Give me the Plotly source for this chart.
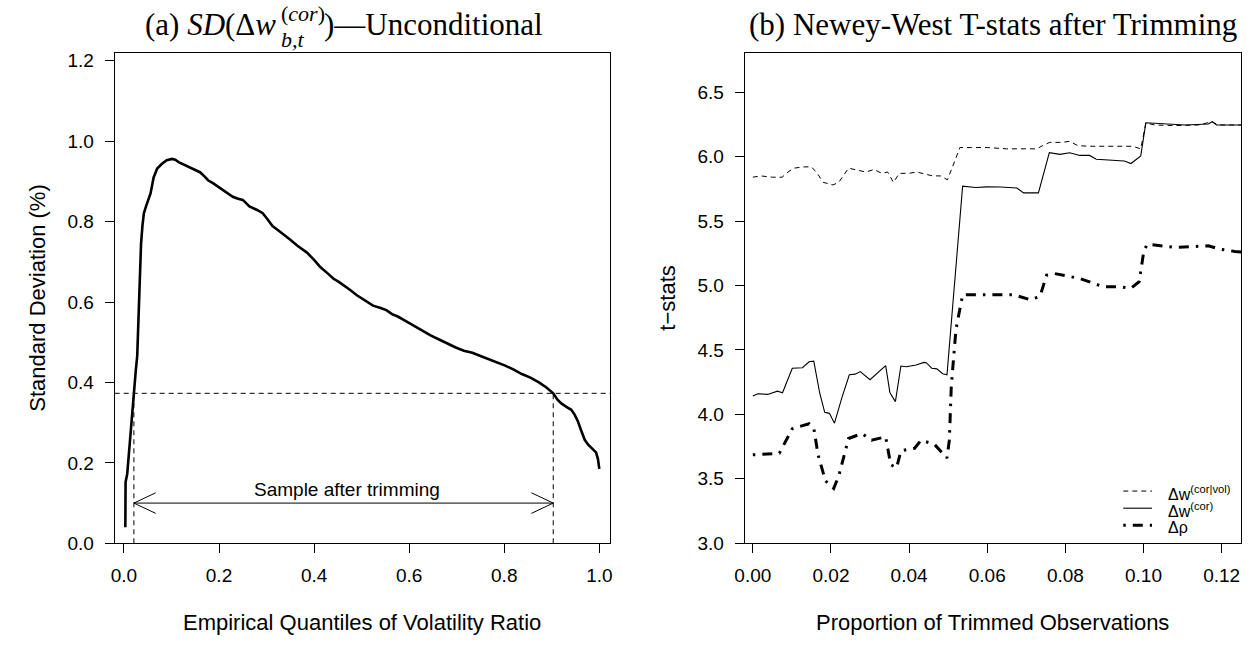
import plotly.graph_objects as go

W, H = 1259, 652

# ---------------- Panel (a) data ----------------
quantile = [0.003, 0.0035, 0.007, 0.010, 0.014, 0.018, 0.021, 0.025, 0.028, 0.031,
            0.033, 0.036, 0.039, 0.042, 0.047, 0.052, 0.056, 0.0625, 0.070, 0.080,
            0.090, 0.101, 0.108, 0.115, 0.125, 0.135, 0.148, 0.160, 0.170, 0.177,
            0.188, 0.198, 0.212, 0.229, 0.240, 0.250, 0.257, 0.264, 0.280, 0.292,
            0.302, 0.3125, 0.325, 0.337, 0.350, 0.365, 0.375, 0.385, 0.400, 0.413,
            0.428, 0.441, 0.452, 0.462, 0.476, 0.490, 0.507, 0.524, 0.540, 0.552,
            0.564, 0.576, 0.594, 0.611, 0.628, 0.645, 0.663, 0.680, 0.698, 0.715,
            0.733, 0.750, 0.767, 0.785, 0.802, 0.820, 0.837, 0.855, 0.872, 0.888,
            0.903, 0.912, 0.920, 0.930, 0.941, 0.948, 0.955, 0.962, 0.969, 0.976,
            0.983, 0.990, 0.993, 0.997, 1.0]
sd_pct = [0.040, 0.152, 0.173, 0.220, 0.280, 0.330, 0.373, 0.430, 0.466, 0.570,
          0.679, 0.744, 0.790, 0.821, 0.840, 0.858, 0.870, 0.910, 0.932, 0.944,
          0.953, 0.956, 0.954, 0.948, 0.942, 0.936, 0.930, 0.923, 0.912, 0.903,
          0.895, 0.887, 0.876, 0.862, 0.857, 0.854, 0.846, 0.838, 0.829, 0.821,
          0.806, 0.789, 0.778, 0.768, 0.755, 0.740, 0.731, 0.723, 0.705, 0.687,
          0.672, 0.658, 0.650, 0.642, 0.630, 0.617, 0.603, 0.591, 0.585, 0.580,
          0.570, 0.564, 0.552, 0.540, 0.528, 0.517, 0.507, 0.497, 0.487, 0.479,
          0.474, 0.466, 0.458, 0.451, 0.442, 0.432, 0.421, 0.412, 0.401, 0.388,
          0.373, 0.357, 0.348, 0.340, 0.332, 0.320, 0.303, 0.280, 0.258, 0.246,
          0.238, 0.230, 0.226, 0.210, 0.185]
lower_q = 0.021
upper_q = 0.903
sd_threshold = 0.373
arrow_level = 0.10
sample_label = "Sample after trimming"
sample_label_x = 0.47
sample_label_y = 0.135

a_xticks = [0.0, 0.2, 0.4, 0.6, 0.8, 1.0]
a_xticklabels = ["0.0", "0.2", "0.4", "0.6", "0.8", "1.0"]
a_yticks = [0.0, 0.2, 0.4, 0.6, 0.8, 1.0, 1.2]
a_yticklabels = ["0.0", "0.2", "0.4", "0.6", "0.8", "1.0", "1.2"]

# ---------------- Panel (b) data ----------------
trim_vol = [0, 0.002, 0.005, 0.0075, 0.009, 0.0105, 0.013, 0.015, 0.0165, 0.018,
            0.0205, 0.022, 0.0245, 0.027, 0.029, 0.031, 0.033, 0.0345, 0.036, 0.0375,
            0.040, 0.042, 0.0445, 0.046, 0.048, 0.0498, 0.0515, 0.053, 0.056, 0.060,
            0.065, 0.070, 0.0727, 0.0745, 0.076, 0.079, 0.0811, 0.0832, 0.086, 0.090,
            0.095, 0.0972, 0.0993, 0.1006, 0.103, 0.108, 0.114, 0.1176, 0.119, 0.125]
tstat_vol = [5.84, 5.85, 5.84, 5.84, 5.88, 5.91, 5.92, 5.92, 5.87, 5.80,
             5.78, 5.80, 5.91, 5.89, 5.88, 5.90, 5.87, 5.88, 5.80, 5.87,
             5.87, 5.88, 5.86, 5.85, 5.85, 5.82, 5.95, 6.07, 6.07, 6.07,
             6.06, 6.06, 6.06, 6.09, 6.11, 6.11, 6.118, 6.085, 6.08, 6.08,
             6.08, 6.08, 6.06, 6.26, 6.245, 6.24, 6.245, 6.27, 6.245, 6.245]

trim_cor = [0, 0.0013, 0.0038, 0.0063, 0.0076, 0.0101, 0.0127, 0.0144, 0.0156, 0.0171,
            0.0184, 0.0196, 0.0209, 0.0228, 0.0247, 0.0262, 0.0275, 0.0300, 0.0340, 0.0351,
            0.0365, 0.0379, 0.0393, 0.0418, 0.0438, 0.0444, 0.0458, 0.0471, 0.0486, 0.0497,
            0.0537, 0.057, 0.060, 0.0634, 0.0676, 0.0693, 0.0731, 0.0759, 0.0786, 0.0811,
            0.0837, 0.0862, 0.0879, 0.0913, 0.0951, 0.0968, 0.0993, 0.1006, 0.1031, 0.1056,
            0.1107, 0.1166, 0.1176, 0.1187, 0.125]
tstat_cor = [4.142, 4.160, 4.155, 4.180, 4.168, 4.358, 4.362, 4.408, 4.413, 4.168,
             4.016, 4.008, 3.932, 4.130, 4.307, 4.312, 4.332, 4.269, 4.378, 4.168,
             4.099, 4.375, 4.370, 4.383, 4.403, 4.401, 4.358, 4.353, 4.315, 4.307,
             5.770, 5.760, 5.765, 5.764, 5.756, 5.718, 5.718, 6.030, 6.017, 6.030,
             6.009, 6.009, 5.979, 5.971, 5.966, 5.946, 6.004, 6.262, 6.258, 6.250,
             6.245, 6.252, 6.270, 6.245, 6.245]

trim_rho = [0, 0.0068, 0.0101, 0.0144, 0.0156, 0.0167, 0.0186, 0.0207, 0.0220, 0.0245,
            0.0279, 0.0304, 0.0340, 0.0353, 0.0368, 0.0379, 0.0414, 0.0431, 0.0465, 0.0486,
            0.0497, 0.0503, 0.0508, 0.0520, 0.0532, 0.0537, 0.0608, 0.0667, 0.071, 0.0735,
            0.0752, 0.0773, 0.0837, 0.0896, 0.0938, 0.0968, 0.0989, 0.1001, 0.1010, 0.1082,
            0.1166, 0.1196, 0.1234, 0.125]
tstat_rho = [3.686, 3.699, 3.889, 3.927, 3.894, 3.686, 3.484, 3.426, 3.522, 3.813,
             3.851, 3.800, 3.826, 3.610, 3.585, 3.717, 3.737, 3.800, 3.767, 3.699,
             3.661, 3.800, 4.220, 4.660, 4.864, 4.928, 4.928, 4.928, 4.890, 4.915,
             5.080, 5.092, 5.054, 4.991, 4.991, 4.978, 5.029, 5.270, 5.320, 5.295,
             5.308, 5.282, 5.264, 5.260]

b_xticks = [0.00, 0.02, 0.04, 0.06, 0.08, 0.10, 0.12]
b_xticklabels = ["0.00", "0.02", "0.04", "0.06", "0.08", "0.10", "0.12"]
b_yticks = [3.0, 3.5, 4.0, 4.5, 5.0, 5.5, 6.0, 6.5]
b_yticklabels = ["3.0", "3.5", "4.0", "4.5", "5.0", "5.5", "6.0", "6.5"]

legend_labels = ["Δw<sup>(cor|vol)</sup>", "Δw<sup>(cor)</sup>", "Δρ"]

# ---------------- Layout geometry (pixels) ----------------
A_LEFT, A_RIGHT = 105.7, 606.0
B_LEFT, B_RIGHT = 741.7, 1243.0
TOP, BOTTOM = 51.7, 552.3
a_xrange = [-0.0194, 1.0229]
a_yrange = [0.0, 1.2203]
b_xrange = [-0.0021, 0.125]
b_yrange = [3.0, 6.806]

SANS = "Liberation Sans, Arial, sans-serif"
SERIF = "Liberation Serif, Times New Roman, serif"
TICKFONT = dict(family=SANS, size=19, color="black")


def px(xp):
    return xp / W


def py(yp):
    return 1 - yp / H


fig = go.Figure()

# Panel (a) curve
fig.add_trace(go.Scatter(x=quantile, y=sd_pct, mode="lines", xaxis="x", yaxis="y",
                         line=dict(color="black", width=2.6), showlegend=False,
                         hoverinfo="skip"))
# vertical dashed segments
fig.add_trace(go.Scatter(x=[lower_q, lower_q, None, upper_q, upper_q],
                         y=[0, sd_threshold, None, 0, sd_threshold],
                         mode="lines", xaxis="x", yaxis="y",
                         line=dict(color="black", width=1, dash="5px,4px"),
                         showlegend=False, hoverinfo="skip", cliponaxis=False))

# Panel (b) lines
fig.add_trace(go.Scatter(x=trim_vol, y=tstat_vol, mode="lines", xaxis="x2", yaxis="y2",
                         line=dict(color="black", width=1, dash="5px,4px"),
                         showlegend=False, hoverinfo="skip"))
fig.add_trace(go.Scatter(x=trim_cor, y=tstat_cor, mode="lines", xaxis="x2", yaxis="y2",
                         line=dict(color="black", width=1.1),
                         showlegend=False, hoverinfo="skip"))
fig.add_trace(go.Scatter(x=trim_rho, y=tstat_rho, mode="lines", xaxis="x2", yaxis="y2",
                         line=dict(color="black", width=3, dash="2.5px,7px,10px,7px"),
                         showlegend=False, hoverinfo="skip"))

shapes = []
# horizontal dashed threshold across panel (a)
shapes.append(dict(type="line", xref="x domain", yref="y", x0=0, x1=1,
                   y0=sd_threshold, y1=sd_threshold,
                   line=dict(color="black", width=1, dash="5px,4px")))
# double-headed arrow
shapes.append(dict(type="line", xref="x", yref="y", x0=lower_q, x1=upper_q,
                   y0=arrow_level, y1=arrow_level, line=dict(color="black", width=1)))
x_ppu = (A_RIGHT - A_LEFT) / (a_xrange[1] - a_xrange[0])
y_ppu = (BOTTOM - TOP) / (a_yrange[1] - a_yrange[0])
adx = 22 / x_ppu
ady = 10.5 / y_ppu
shapes.append(dict(type="path", xref="x", yref="y",
                   path=f"M {lower_q + adx},{arrow_level + ady} L {lower_q},{arrow_level} L {lower_q + adx},{arrow_level - ady}",
                   line=dict(color="black", width=1)))
shapes.append(dict(type="path", xref="x", yref="y",
                   path=f"M {upper_q - adx},{arrow_level + ady} L {upper_q},{arrow_level} L {upper_q - adx},{arrow_level - ady}",
                   line=dict(color="black", width=1)))

# manual legend samples (paper coords)
leg_rows = [499, 516.5, 534]
leg_styles = [dict(width=1, dash="5px,4px"), dict(width=1.1), dict(width=3, dash="2.5px,7px,10px,7px")]
for yy, st in zip(leg_rows, leg_styles):
    shapes.append(dict(type="line", xref="paper", yref="paper", x0=px(1124), x1=px(1153),
                       y0=py(yy), y1=py(yy), line=dict(color="black", **st)))

annotations = []
annotations.append(dict(text=sample_label, x=sample_label_x, y=sample_label_y, xref="x", yref="y",
                        showarrow=False, font=dict(family=SANS, size=19, color="black"),
                        xanchor="center", yanchor="middle"))
for yy, lab in zip(leg_rows, legend_labels):
    annotations.append(dict(text=lab, x=px(1167), y=py(yy + 2), xref="paper", yref="paper",
                            showarrow=False, font=dict(family=SANS, size=16, color="black"),
                            xanchor="left", yanchor="middle"))

# axis titles
annotations.append(dict(text="Empirical Quantiles of Volatility Ratio", x=px((A_LEFT + A_RIGHT) / 2),
                        y=py(633), xref="paper", yref="paper", showarrow=False,
                        font=dict(family=SANS, size=22, color="black"), xanchor="center", yanchor="middle"))
annotations.append(dict(text="Proportion of Trimmed Observations", x=px((B_LEFT + B_RIGHT) / 2),
                        y=py(633), xref="paper", yref="paper", showarrow=False,
                        font=dict(family=SANS, size=22, color="black"), xanchor="center", yanchor="middle"))
annotations.append(dict(text="Standard Deviation (%)", x=px(28), y=py((TOP + BOTTOM) / 2),
                        xref="paper", yref="paper", showarrow=False, textangle=-90,
                        font=dict(family=SANS, size=22, color="black"), xanchor="center", yanchor="middle"))
annotations.append(dict(text="t−stats", x=px(664), y=py((TOP + BOTTOM) / 2),
                        xref="paper", yref="paper", showarrow=False, textangle=-90,
                        font=dict(family=SANS, size=22, color="black"), xanchor="center", yanchor="middle"))

# panel titles
annotations.append(dict(text="(a) <i>SD</i>(Δ<i>w</i>", x=px(271), y=py(23), xref="paper", yref="paper",
                        showarrow=False, font=dict(family=SERIF, size=31, color="black"),
                        xanchor="right", yanchor="middle"))
annotations.append(dict(text="(<i>cor</i>)", x=px(272), y=py(12), xref="paper", yref="paper",
                        showarrow=False, font=dict(family=SERIF, size=22, color="black"),
                        xanchor="left", yanchor="middle"))
annotations.append(dict(text="<i>b,t</i>", x=px(272), y=py(38), xref="paper", yref="paper",
                        showarrow=False, font=dict(family=SERIF, size=22, color="black"),
                        xanchor="left", yanchor="middle"))
annotations.append(dict(text=")—Unconditional", x=px(315), y=py(23), xref="paper", yref="paper",
                        showarrow=False, font=dict(family=SERIF, size=31, color="black"),
                        xanchor="left", yanchor="middle"))
annotations.append(dict(text="(b) Newey-West T-stats after Trimming", x=px((B_LEFT + B_RIGHT) / 2),
                        y=py(23), xref="paper", yref="paper", showarrow=False,
                        font=dict(family=SERIF, size=31, color="black"),
                        xanchor="center", yanchor="middle"))

axis_common = dict(showgrid=False, zeroline=False, showline=True, mirror=True,
                   linecolor="black", linewidth=1, ticks="outside", ticklen=9,
                   tickwidth=1, tickcolor="black", tickfont=TICKFONT, fixedrange=True)

fig.update_layout(
    width=W, height=H,
    margin=dict(l=0, r=0, t=0, b=0),
    paper_bgcolor="white", plot_bgcolor="white",
    showlegend=False,
    xaxis=dict(domain=[px(A_LEFT), px(A_RIGHT)], range=a_xrange, tickvals=a_xticks,
               ticktext=a_xticklabels, anchor="y", ticklabelstandoff=6, **axis_common),
    yaxis=dict(domain=[py(BOTTOM), py(TOP)], range=a_yrange, tickvals=a_yticks,
               ticktext=a_yticklabels, anchor="x", ticklabelstandoff=7, **axis_common),
    xaxis2=dict(domain=[px(B_LEFT), px(B_RIGHT)], range=b_xrange, tickvals=b_xticks,
                ticktext=b_xticklabels, anchor="y2", ticklabelstandoff=6, **axis_common),
    yaxis2=dict(domain=[py(BOTTOM), py(TOP)], range=b_yrange, tickvals=b_yticks,
                ticktext=b_yticklabels, anchor="x2", ticklabelstandoff=7, **axis_common),
    shapes=shapes,
    annotations=annotations,
)

fig.write_html("out.html")
